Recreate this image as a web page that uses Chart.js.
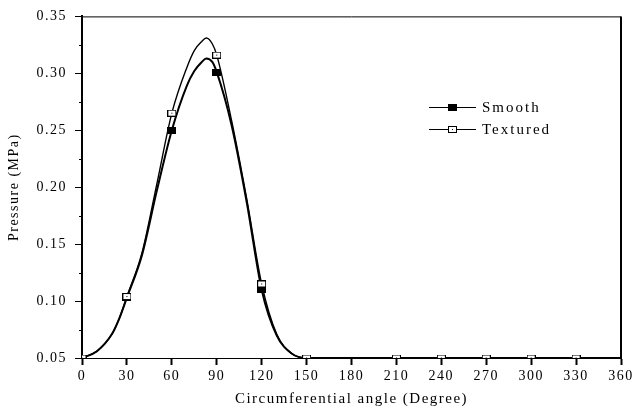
<!DOCTYPE html>
<html lang="en">
<head>
  <meta charset="UTF-8">
  <title>Pressure vs circumferential angle</title>
  <style>
    body {
      margin: 0;
      padding: 0;
      background: #ffffff;
    }
    .wrap {
      width: 635px;
      height: 412px;
      position: relative;
    }
  </style>
</head>
<body>
  <div class="wrap">
    <canvas id="pressureChart" width="635" height="412"></canvas>
  </div>

  <script src="https://cdn.jsdelivr.net/npm/chart.js"></script>

  <script>
    // curve samples (degrees / MPa)
    const curveAngles   = [0, 10, 20, 25, 30, 40, 50, 60, 70, 75, 80, 83, 87, 90, 100, 110, 120, 130, 140, 150, 360];
    const smoothCurve   = [0.050, 0.056, 0.071, 0.085, 0.103, 0.140, 0.197, 0.250, 0.289, 0.302, 0.310, 0.313, 0.310, 0.301, 0.254, 0.187, 0.110, 0.070, 0.054, 0.050, 0.050];
    const texturedCurve = [0.050, 0.056, 0.071, 0.085, 0.104, 0.142, 0.203, 0.265, 0.305, 0.320, 0.328, 0.331, 0.326, 0.316, 0.258, 0.190, 0.115, 0.071, 0.054, 0.050, 0.050];

    // square markers
    const markerAngles    = [0, 30, 60, 90, 120, 150, 210, 240, 270, 300, 330];
    const smoothMarkers   = [0.050, 0.103, 0.250, 0.301, 0.110, 0.050, 0.050, 0.050, 0.050, 0.050, 0.050];
    const texturedMarkers = [0.050, 0.104, 0.265, 0.316, 0.115, 0.050, 0.050, 0.050, 0.050, 0.050, 0.050];

    const xTicks = [0, 30, 60, 90, 120, 150, 180, 210, 240, 270, 300, 330, 360];
    const yTicks = [0.05, 0.10, 0.15, 0.20, 0.25, 0.30, 0.35];

    const seriesNames = ['Smooth', 'Textured'];

    const SERIF = '"Liberation Serif", "DejaVu Serif", serif';

    function pts(xs, ys) {
      return xs.map((x, i) => ({ x: x, y: ys[i] }));
    }

    // little marker images
    function makeMarker(w, h, filled) {
      const c = document.createElement('canvas');
      c.width = w;
      c.height = h;
      const g = c.getContext('2d');
      g.fillStyle = '#000';
      g.fillRect(0, 0, w, h);
      if (!filled) {
        g.fillStyle = '#fff';
        g.fillRect(1, 1, w - 2, h - 2);
        g.fillStyle = '#000';
        g.fillRect(Math.floor(w / 2), Math.floor(h / 2), 1, 1);
      }
      return c;
    }
    const filledMark = makeMarker(9, 7, true);
    const openMark = makeMarker(9, 7, false);

    // frame, minor ticks and legend
    const extras = {
      id: 'extras',
      beforeDraw(chart) {
        chart.ctx.letterSpacing = '1.5px';
      },
      afterDraw(chart) {
        const ctx = chart.ctx;
        const a = chart.chartArea;
        const ys = chart.scales.y;
        ctx.save();
        ctx.strokeStyle = '#000';
        // top + right border
        ctx.lineWidth = 1;
        ctx.beginPath();
        ctx.moveTo(a.left, a.top + 0.5);
        ctx.lineTo(a.right, a.top + 0.5);
        ctx.stroke();
        ctx.lineWidth = 2;
        ctx.beginPath();
        ctx.moveTo(a.right, a.top);
        ctx.lineTo(a.right, a.bottom);
        ctx.stroke();

        // minor y ticks between labelled ones
        ctx.lineWidth = 1;
        for (let i = 0; i < yTicks.length - 1; i++) {
          const py = Math.round(ys.getPixelForValue((yTicks[i] + yTicks[i + 1]) / 2)) + 0.5;
          ctx.beginPath();
          ctx.moveTo(a.left - 3, py);
          ctx.lineTo(a.left, py);
          ctx.stroke();
        }

        // legend
        const lx = 429, ly = 107, gap = 22;
        const marks = [filledMark, openMark];
        ctx.font = '15px ' + SERIF;
        ctx.letterSpacing = '2px';
        ctx.fillStyle = '#000';
        ctx.textBaseline = 'middle';
        seriesNames.forEach((name, i) => {
          const y = ly + i * gap + 0.5;
          ctx.lineWidth = 1;
          ctx.beginPath();
          ctx.moveTo(lx, y);
          ctx.lineTo(lx + 47, y);
          ctx.stroke();
          ctx.drawImage(marks[i], lx + 23 - 4, Math.round(y) - 4);
          ctx.fillText(name, lx + 53, y + 1);
        });
        ctx.restore();
      }
    };

    const ctx = document.getElementById('pressureChart').getContext('2d');
    new Chart(ctx, {
      type: 'line',
      data: {
        datasets: [
          {
            label: seriesNames[0],
            data: pts(curveAngles, smoothCurve),
            borderColor: '#000',
            borderWidth: 2,
            pointRadius: 0,
            cubicInterpolationMode: 'monotone',
            fill: false,
            order: 4
          },
          {
            label: seriesNames[1],
            data: pts(curveAngles, texturedCurve),
            borderColor: '#000',
            borderWidth: 1.4,
            pointRadius: 0,
            cubicInterpolationMode: 'monotone',
            fill: false,
            order: 3
          },
          {
            label: seriesNames[0] + ' markers',
            data: pts(markerAngles, smoothMarkers),
            showLine: false,
            pointStyle: filledMark,
            pointRadius: 4,
            order: 2
          },
          {
            label: seriesNames[1] + ' markers',
            data: pts(markerAngles, texturedMarkers),
            showLine: false,
            pointStyle: openMark,
            pointRadius: 4,
            order: 1
          }
        ]
      },
      options: {
        responsive: false,
        animation: false,
        events: [],
        layout: { padding: { left: 0, right: 14, top: 14, bottom: 0 } },
        plugins: {
          legend: { display: false },
          tooltip: { enabled: false }
        },
        scales: {
          x: {
            type: 'linear',
            min: 0,
            max: 360,
            afterBuildTicks: (s) => { s.ticks = xTicks.map(v => ({ value: v })); },
            afterFit: (s) => { s.height = 54; },
            ticks: {
              color: '#000',
              font: { family: SERIF, size: 14 },
              padding: 3,
              maxRotation: 0,
              autoSkip: false
            },
            grid: {
              drawOnChartArea: false,
              drawTicks: true,
              tickLength: 7,
              tickWidth: 2,
              color: '#000'
            },
            border: { display: true, color: '#000', width: 1 },
            title: {
              display: true,
              text: 'Circumferential angle (Degree)',
              color: '#000',
              font: { family: SERIF, size: 15 },
              padding: { top: 0, bottom: 4 }
            }
          },
          y: {
            min: 0.05,
            max: 0.35,
            afterBuildTicks: (s) => { s.ticks = yTicks.map(v => ({ value: v })); },
            afterFit: (s) => { s.width = 82; },
            ticks: {
              color: '#000',
              font: { family: SERIF, size: 14 },
              padding: 8,
              callback: (v) => Number(v).toFixed(2)
            },
            grid: {
              drawOnChartArea: false,
              drawTicks: true,
              tickLength: 7,
              color: '#000'
            },
            border: { display: true, color: '#000', width: 2 },
            title: {
              display: true,
              text: 'Pressure (MPa)',
              color: '#000',
              font: { family: SERIF, size: 14 },
              padding: { top: 6, bottom: 0 }
            }
          }
        }
      },
      plugins: [extras]
    });
  </script>
</body>
</html>
